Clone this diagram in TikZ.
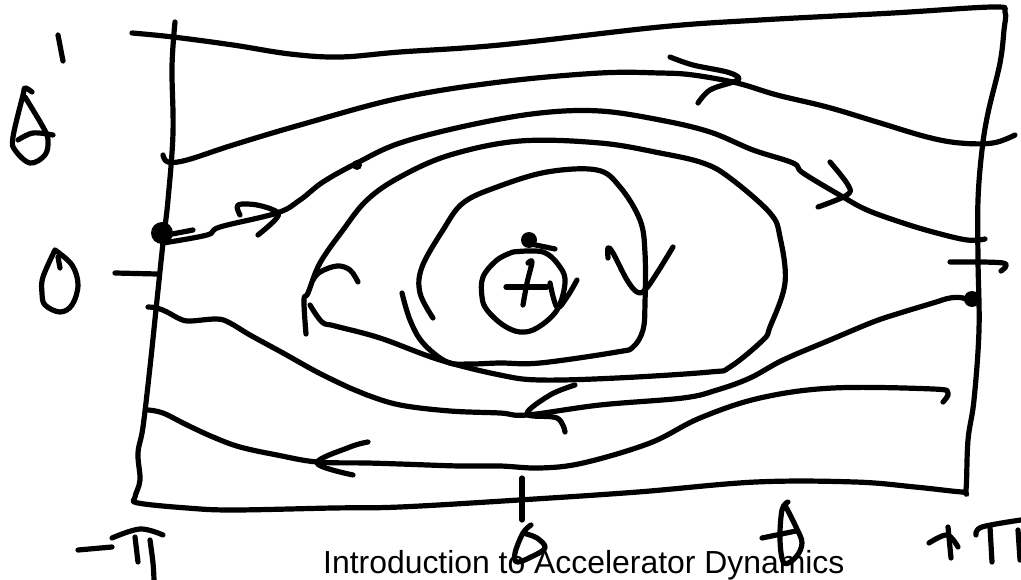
\documentclass[tikz,border=0pt]{standalone}
\usepackage{fontspec}
\setmainfont{Liberation Sans}
\tikzset{
  inkline/.style={black, line width=5.2pt, line cap=round, line join=round},
  inkdot/.style={fill=black, draw=none}
}
\newcommand{\inkcurve}[1]{\draw[inkline] plot[smooth, tension=0.6] coordinates {#1};}
\begin{document}
\begin{tikzpicture}[x=1pt, y=-1pt]
  \useasboundingbox (0,0) rectangle (1021,580);
  \clip (0,0) rectangle (1021,580);
  \node[anchor=base west, inner sep=0pt, font=\fontsize{31.9}{34}\selectfont] (caption) at (323,573) {Introduction to Accelerator Dynamics};
  % frame
  \inkcurve{(132,33) (173,37) (233,45) (290,54) (340,57) (400,52) (500,45) (660,27) (760,20) (893,13) (993,7) (1005,12) (1004,30) (1000,63) (988,113) (982,150) (978,200) (978,260) (979,330) (974,400) (968,440) (966,490) (962,492) (915,487) (855,482) (756,482) (638,492) (519,500) (400,507) (333,508) (233,510) (187,508) (138,503) (135,497) (140,480) (138,453) (143,427) (150,367) (157,300) (163,243) (168,200) (173,133) (172,67) (175,22)}
  % flow lines, upper
  \inkcurve{(163,155) (168,162) (187,160) (233,145) (300,125) (400,98) (500,82) (600,73) (660,73) (693,75) (737,83) (777,95) (827,107) (877,122) (927,137) (960,143) (993,143) (1015,135)}
  \inkcurve{(163,243) (207,235) (220,227) (277,213) (300,200) (323,182) (357,163) (400,143) (470,125) (540,113) (600,111) (660,120) (710,132) (753,150) (793,163) (803,173) (843,197) (867,210) (900,222) (933,232) (967,240) (985,239)}
  % closed orbits
  \inkcurve{(306,334) (304,300) (308,293) (320,263) (343,230) (367,200) (400,177) (450,155) (520,141) (600,143) (660,153) (703,163) (730,178) (770,213) (780,237) (785,283) (770,327) (763,340) (730,367) (710,372) (617,378) (540,380) (500,375) (440,360) (380,338) (335,326) (322,322) (310,305)}
  \inkcurve{(433,318) (420,293) (422,267) (443,230) (463,203) (497,187) (547,172) (597,170) (620,187) (640,220) (645,253) (645,303) (643,330) (633,347) (617,352) (540,363) (500,363) (470,364) (447,362) (423,343) (410,320) (402,293)}
  \inkcurve{(513,252) (543,252) (560,267) (565,283) (557,310) (537,328) (520,332) (503,325) (487,310) (482,297) (483,277) (497,260) (513,252)}
  % flow lines, lower
  \inkcurve{(148,307) (157,308) (167,312) (180,319) (190,321) (217,319) (230,323) (250,335) (283,353) (317,372) (350,388) (367,395) (400,405) (450,411) (500,413) (527,415) (600,405) (683,398) (717,390) (750,378) (783,360) (830,340) (873,322) (900,313) (933,303) (950,298) (963,298) (973,303)}
  \inkcurve{(148,410) (163,413) (187,425) (213,437) (240,447) (277,455) (317,462) (367,463) (400,464) (459,466) (500,466) (540,468) (583,463) (650,443) (700,418) (760,398) (833,388) (933,389) (948,393) (943,402)}
  % arrow heads
  \inkcurve{(670,57) (693,65) (727,72) (739,78) (733,82) (710,90) (698,103)}
  \inkcurve{(830,162) (848,185) (847,195) (818,207)}
  \inkcurve{(240,215) (238,205) (257,205) (277,212) (275,220) (258,235)}
  \inkcurve{(313,280) (320,272) (337,266) (350,270) (358,282)}
  \inkcurve{(608,258) (608,248) (613,253) (627,280) (637,292) (645,290) (657,273) (673,247)}
  \inkcurve{(550,283) (557,307) (567,297) (577,280)}
  \inkcurve{(575,385) (550,395) (527,414) (557,418) (565,432)}
  \inkcurve{(368,442) (350,447) (317,463) (353,475)}
  % centre marks
  \inkcurve{(506,287) (547,287)}
  \inkcurve{(528,263) (532,262) (527,283) (523,305)}
  \inkcurve{(526,243) (555,249)}
  \fill[inkdot] (529,240) circle (8);
  \fill[inkdot] (162,233) circle (11);
  \fill[inkdot] (972,299) circle (8);
  \fill[inkdot] (357,165) circle (5);
  \inkcurve{(167,235) (193,230)}
  % ticks
  \inkcurve{(115,273) (157,274)}
  \inkcurve{(950,262) (1003,263) (1001,271)}
  \inkcurve{(522,478) (522,520)}
  % axis labels
  \inkcurve{(58,35) (63,61)}
  \inkcurve{(32,92) (25,88) (23,95) (13,137) (15,150) (30,163) (45,155) (48,140) (43,127) (25,97)}
  \inkcurve{(18,140) (33,133) (53,135)}
  \inkcurve{(55,250) (43,277) (42,293) (45,305) (60,312) (72,305) (78,285) (72,265) (55,250)}
  \inkcurve{(58,257) (60,268)}
  \inkcurve{(531,525) (523,533) (515,553) (517,562) (531,557) (545,548) (537,538) (523,533)}
  \inkcurve{(788,502) (782,510) (780,540) (784,563) (796,557) (802,543) (796,527) (786,507)}
  \inkcurve{(762,538) (796,531)}
  \inkcurve{(78,550) (112,547)}
  \inkcurve{(112,538) (140,529) (163,535)}
  \inkcurve{(135,537) (138,562)}
  \inkcurve{(150,540) (153,563) (154,580)}
  \inkcurve{(929,543) (947,535) (958,547)}
  \inkcurve{(948,527) (951,558)}
  \inkcurve{(976,535) (982,527) (1021,520)}
  \inkcurve{(990,527) (992,562)}
  \inkcurve{(1018,530) (1020,560)}
\end{tikzpicture}
\end{document}
